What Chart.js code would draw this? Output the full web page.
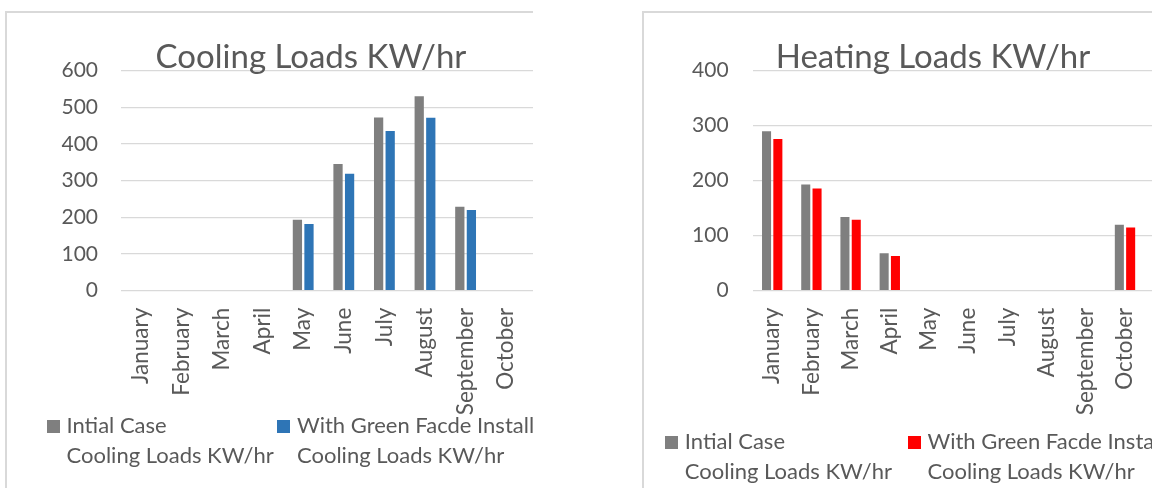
<!DOCTYPE html>
<html lang="en">
<head>
    <meta charset="UTF-8">
    <title>Cooling and Heating Loads</title>
    <script src="https://cdn.jsdelivr.net/npm/chart.js@4.4.1/dist/chart.umd.min.js"></script>
    <style>
        body {
            margin: 0;
            background: #ffffff;
            font-family: 'Lato', 'Open Sans', sans-serif;
            color: #595959;
        }
        .panel {
            position: absolute;
            top: 11px;
            height: 490px;
            border-left: 2px solid #d9d9d9;
            border-top: 2px solid #d9d9d9;
            overflow: hidden;
            background: #fff;
        }
        #coolPanel { left: 5px; width: 526px; }
        #heatPanel { left: 642px; width: 508px; }
        .wrap {
            position: absolute;
            left: 0;
            top: 0;
            height: 480px;
        }
        .title {
            position: absolute;
            top: 26px;
            font-size: 33px;
            line-height: 1;
            white-space: nowrap;
            transform: translateX(-50%);
            color: #595959;
        }
        .legend .item {
            position: absolute;
            white-space: nowrap;
            font-size: 22px;
            line-height: 30px;
        }
        .legend .box {
            position: absolute;
            left: 0;
            top: 9.5px;
            width: 13px;
            height: 13px;
        }
        .legend .txt {
            display: block;
            margin-left: 20px;
        }
    </style>
</head>
<body>
    <div class="panel" id="coolPanel">
        <div class="wrap" style="width:608px"><canvas id="coolChart"></canvas></div>
        <div class="title" style="left:304px">Cooling Loads KW/hr</div>
        <div class="legend" id="coolLegend"></div>
    </div>
    <div class="panel" id="heatPanel">
        <div class="wrap" style="width:585px"><canvas id="heatChart"></canvas></div>
        <div class="title" style="left:289px">Heating Loads KW/hr</div>
        <div class="legend" id="heatLegend"></div>
    </div>

    <script>
        // months (November / December fall outside the cropped picture)
        const months = ['January', 'February', 'March', 'April', 'May', 'June',
            'July', 'August', 'September', 'October', 'November', 'December'];

        const coolingInitial = [0, 0, 0, 0, 193, 345, 472, 530, 229, 0];
        const coolingGreen   = [0, 0, 0, 0, 182, 319, 435, 471, 220, 0];
        const heatingInitial = [290, 193, 134, 68, 0, 0, 0, 0, 0, 120];
        const heatingGreen   = [276, 186, 129, 63, 0, 0, 0, 0, 0, 115];

        const coolTicks = [0, 100, 200, 300, 400, 500, 600];
        const heatTicks = [0, 100, 200, 300, 400];

        const legendInitial = ['Intial Case', 'Cooling Loads KW/hr'];
        const legendGreen   = ['With Green Facde Installation', 'Cooling Loads KW/hr'];

        const textColor = '#595959';
        const gridColor = '#d9d9d9';

        function makeChart(id, initial, green, greenColor, ticks, box) {
            return new Chart(document.getElementById(id), {
                type: 'bar',
                data: {
                    labels: months,
                    datasets: [{
                        label: legendInitial,
                        data: initial,
                        backgroundColor: '#7f7f7f',
                        categoryPercentage: box.cat,
                        barPercentage: box.bar
                    }, {
                        label: legendGreen,
                        data: green,
                        backgroundColor: greenColor,
                        categoryPercentage: box.cat,
                        barPercentage: box.bar
                    }]
                },
                options: {
                    responsive: true,
                    maintainAspectRatio: false,
                    animation: false,
                    layout: {
                        padding: { left: 0, top: box.top, right: box.right, bottom: 0 }
                    },
                    plugins: {
                        legend: { display: false },
                        title: { display: false },
                        tooltip: { enabled: false }
                    },
                    scales: {
                        x: {
                            grid: { display: false, drawTicks: false },
                            border: { display: false },
                            ticks: {
                                color: textColor,
                                font: { family: 'Lato', size: 22.5 },
                                minRotation: 90,
                                maxRotation: 90,
                                padding: 17,
                                autoSkip: false
                            },
                            afterFit(scale) {
                                scale.height = box.xh;
                                scale.paddingLeft = 0;
                                scale.paddingRight = 0;
                            }
                        },
                        y: {
                            min: ticks[0],
                            max: ticks[ticks.length - 1],
                            afterBuildTicks(scale) {
                                scale.ticks = ticks.map(v => ({ value: v }));
                            },
                            grid: { color: gridColor, lineWidth: 1.3, drawTicks: false },
                            border: { display: false },
                            ticks: {
                                color: textColor,
                                font: { family: 'Lato', size: 21 },
                                padding: box.ypad
                            },
                            afterFit(scale) {
                                scale.width = box.yw;
                                scale.paddingTop = 0;
                                scale.paddingBottom = 0;
                            }
                        }
                    }
                }
            });
        }

        function buildLegend(el, chart, pos) {
            chart.data.datasets.forEach((ds, i) => {
                const item = document.createElement('div');
                item.className = 'item';
                item.style.left = pos.lefts[i] + 'px';
                item.style.top = pos.top + 'px';
                item.innerHTML = '<span class="box" style="background:' + ds.backgroundColor + '"></span>' +
                    '<span class="txt">' + ds.label.join('<br>') + '</span>';
                el.appendChild(item);
            });
        }

        const cool = makeChart('coolChart', coolingInitial, coolingGreen, '#2e75b6', coolTicks,
            { top: 57.5, right: 7.3, yw: 113.5, xh: 202.3, ypad: 22.5, cat: 0.57, bar: 0.8 });
        const heat = makeChart('heatChart', heatingInitial, heatingGreen, '#ff0000', heatTicks,
            { top: 57.7, right: 6, yw: 108.6, xh: 202.3, ypad: 24, cat: 0.577, bar: 0.8 });

        buildLegend(document.getElementById('coolLegend'), cool, { lefts: [39.5, 270], top: 397 });
        buildLegend(document.getElementById('heatLegend'), heat, { lefts: [20.8, 263.5], top: 413 });
    </script>
</body>
</html>
